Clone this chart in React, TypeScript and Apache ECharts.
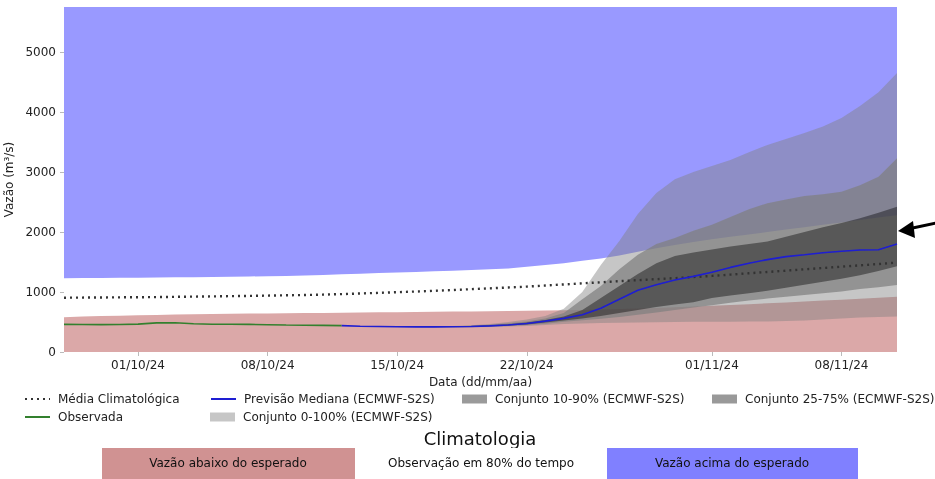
import React, { useEffect, useRef } from "react";
import * as echarts from "echarts";

// ---- Data (day 0 = 27/09/24, daily until 11/11/24) ----
const startDate = new Date(2024, 8, 27);
const dates: string[] = Array.from({ length: 46 }, (_, i) => {
  const d = new Date(startDate.getFullYear(), startDate.getMonth(), startDate.getDate() + i);
  const dd = String(d.getDate()).padStart(2, "0");
  const mm = String(d.getMonth() + 1).padStart(2, "0");
  return `${dd}/${mm}/24`;
});
const tickLabels = ["01/10/24", "08/10/24", "15/10/24", "22/10/24", "01/11/24", "08/11/24"];
const yTicks = [0, 1000, 2000, 3000, 4000, 5000];
const yMax = 5750;

const climLow = [580,590,598,605,612,618,623,628,632,636,640,643,646,649,652,655,658,661,664,667,670,673,676,679,682,686,690,695,700,708,716,725,735,745,757,770,783,797,812,827,842,857,872,887,903,920];
const climHigh = [1230,1232,1234,1236,1238,1241,1244,1247,1251,1255,1259,1263,1268,1275,1285,1295,1305,1315,1325,1335,1345,1356,1367,1378,1390,1420,1450,1480,1520,1560,1610,1670,1730,1785,1835,1880,1920,1960,2000,2040,2080,2120,2160,2200,2240,2280];
const climMean = [905,907,909,911,913,915,919,923,927,931,935,940,945,950,957,965,975,986,997,1008,1020,1033,1047,1061,1075,1090,1108,1126,1144,1162,1180,1197,1214,1231,1249,1268,1290,1312,1334,1356,1378,1400,1422,1444,1466,1490];

const observed = [460,459,457,458,465,485,488,470,463,462,460,455,450,447,444,440];

const forecastStart = 15;
const median = [440,430,425,420,418,418,420,425,435,450,475,515,560,620,730,880,1030,1120,1200,1260,1330,1410,1480,1540,1590,1620,1655,1680,1700,1705,1800];
const ens0High = [440,432,428,425,425,428,435,445,465,500,540,600,720,1000,1450,1850,2300,2650,2880,3000,3100,3200,3330,3450,3550,3650,3760,3900,4100,4330,4650];
const ens0Low = [440,428,420,415,412,410,410,412,418,425,435,450,465,475,482,488,492,496,500,503,505,505,507,510,515,525,540,560,575,585,590];
const ens10High = [440,431,426,422,422,424,430,438,455,478,510,560,650,880,1100,1380,1620,1800,1900,2020,2120,2250,2380,2480,2540,2600,2630,2670,2780,2920,3230];
const ens10Low = [440,429,422,417,415,414,415,417,424,433,448,470,505,530,555,585,620,660,700,740,780,820,860,890,920,950,980,1010,1050,1080,1117];
const ens25High = [440,430,425,421,420,421,425,432,445,462,490,535,590,700,900,1100,1300,1480,1600,1660,1710,1760,1800,1840,1920,2000,2080,2150,2230,2320,2420];
const ens25Low = [440,429,423,419,417,416,418,421,430,442,460,490,525,560,600,650,700,750,790,830,900,940,980,1020,1070,1120,1170,1220,1280,1350,1430];

const NAMES = {
  mean: "Média Climatológica",
  obs: "Observada",
  med: "Previsão Mediana (ECMWF-S2S)",
  e0: "Conjunto 0-100% (ECMWF-S2S)",
  e10: "Conjunto 10-90% (ECMWF-S2S)",
  e25: "Conjunto 25-75% (ECMWF-S2S)",
};

const FONT = "DejaVu Sans";

// place values on the full daily category axis, "-" where there is no data
function placed(vals: number[], offset: number) {
  return dates.map((_, i) => {
    const j = i - offset;
    return j >= 0 && j < vals.length ? vals[j] : "-";
  });
}

function band(id: string, name: string, low: number[], high: number[], offset: number, color: string, z: number) {
  return [
    {
      type: "line",
      name: id + "_base",
      stack: id,
      data: placed(low, offset),
      symbol: "none",
      lineStyle: { width: 0, opacity: 0 },
      silent: true,
      z,
    },
    {
      type: "line",
      name,
      stack: id,
      data: placed(high.map((h, i) => h - low[i]), offset),
      symbol: "none",
      lineStyle: { width: 0, opacity: 0 },
      areaStyle: { color, opacity: 1 },
      itemStyle: { color },
      silent: true,
      z,
    },
  ];
}

function legendItem(left: number, top: number, item: any) {
  return {
    left,
    top,
    padding: 0,
    itemWidth: 25,
    itemHeight: 9,
    selectedMode: false,
    textStyle: { fontSize: 12, fontFamily: FONT, color: "#222", padding: [0, 0, 0, 3] },
    data: [item],
  };
}

export default function App() {
  const ref = useRef<HTMLDivElement>(null);
  useEffect(() => {
    if (!ref.current) return;
    const chart = echarts.init(ref.current, null, { renderer: "svg" });
    const tickIdx = tickLabels.map((t) => dates.indexOf(t));
    const showTick = (i: number) => tickIdx.indexOf(i) >= 0;
    const option: any = {
      animation: false,
      textStyle: { fontFamily: FONT },
      grid: { left: 64, right: 38, top: 7, bottom: 127, outerBoundsMode: "none", containLabel: false },
      xAxis: {
        type: "category",
        data: dates,
        boundaryGap: false,
        name: "Data (dd/mm/aa)",
        nameLocation: "middle",
        nameGap: 24,
        nameTextStyle: { fontSize: 12, color: "#222", fontFamily: FONT },
        axisLine: { show: false },
        axisTick: { show: true, length: 4, lineStyle: { color: "#bbb" }, interval: showTick },
        axisLabel: { interval: showTick, fontSize: 12, color: "#222", margin: 7 },
        splitLine: { show: false },
      },
      yAxis: {
        type: "value",
        min: 0,
        max: yMax,
        interval: 1000,
        name: "Vazão (m³/s)",
        nameLocation: "middle",
        nameGap: 46,
        nameTextStyle: { fontSize: 12, color: "#222", fontFamily: FONT },
        axisLine: { show: false },
        axisTick: { show: true, length: 4, lineStyle: { color: "#bbb" }, customValues: yTicks },
        axisLabel: { customValues: yTicks, formatter: (v: number) => String(v), fontSize: 12, color: "#222", margin: 8 },
        splitLine: { show: false },
      },
      legend: [
        legendItem(24, 393, { name: NAMES.mean, itemStyle: { opacity: 0 } }),
        legendItem(210, 393, { name: NAMES.med, itemStyle: { opacity: 0 } }),
        legendItem(462, 393, { name: NAMES.e10, icon: "rect", itemStyle: { color: "#9a9a9a" } }),
        legendItem(712, 393, { name: NAMES.e25, icon: "rect", itemStyle: { color: "#999999" } }),
        legendItem(24, 411, { name: NAMES.obs, itemStyle: { opacity: 0 } }),
        legendItem(210, 411, { name: NAMES.e0, icon: "rect", itemStyle: { color: "#c6c6c6" } }),
      ],
      series: [
        // climatology: below expected (pink)
        {
          type: "line",
          name: "clim_low",
          data: climLow,
          symbol: "none",
          lineStyle: { width: 0, opacity: 0 },
          areaStyle: { color: "#dba8a8", opacity: 1 },
          silent: true,
          z: 1,
        },
        // climatology: above expected (blue), from upper bound to top
        {
          type: "line",
          name: "clim_high_base",
          stack: "climHigh",
          data: climHigh,
          symbol: "none",
          lineStyle: { width: 0, opacity: 0 },
          silent: true,
          z: 1,
        },
        {
          type: "line",
          name: "clim_high",
          stack: "climHigh",
          data: climHigh.map((v) => yMax - v),
          symbol: "none",
          lineStyle: { width: 0, opacity: 0 },
          areaStyle: { color: "#9999ff", opacity: 1 },
          silent: true,
          z: 1,
        },
        ...band("e0", NAMES.e0, ens0Low, ens0High, forecastStart, "rgba(128,128,128,0.45)", 2),
        ...band("e10", NAMES.e10, ens10Low, ens10High, forecastStart, "rgba(128,128,128,0.72)", 3),
        ...band("e25", NAMES.e25, ens25Low, ens25High, forecastStart, "rgba(0,0,0,0.4)", 4),
        {
          type: "line",
          name: NAMES.mean,
          data: climMean,
          symbol: "none",
          lineStyle: { color: "#333", width: 2.4, type: [2, 4] },
          itemStyle: { color: "#333" },
          silent: true,
          z: 5,
        },
        {
          type: "line",
          name: NAMES.obs,
          data: placed(observed, 0),
          symbol: "none",
          lineStyle: { color: "#33802e", width: 1.6 },
          itemStyle: { color: "#33802e" },
          silent: true,
          z: 6,
        },
        {
          type: "line",
          name: NAMES.med,
          data: placed(median, forecastStart),
          symbol: "none",
          lineStyle: { color: "#1e1ed2", width: 1.6 },
          itemStyle: { color: "#5555cc" },
          silent: true,
          z: 6,
        },
      ],
      graphic: [
        {
          type: "text",
          x: 480,
          y: 438,
          style: { text: "Climatologia", font: `18px "${FONT}"`, fill: "#111", textAlign: "center", textVerticalAlign: "middle" },
        },
        { type: "rect", shape: { x: 102, y: 448, width: 253, height: 35 }, style: { fill: "#d09292" } },
        { type: "rect", shape: { x: 355, y: 448, width: 252, height: 35 }, style: { fill: "#ffffff" } },
        { type: "rect", shape: { x: 607, y: 448, width: 251, height: 35 }, style: { fill: "#8080ff" } },
        {
          type: "text",
          x: 228,
          y: 463,
          style: { text: "Vazão abaixo do esperado", font: `12px "${FONT}"`, fill: "#111", textAlign: "center", textVerticalAlign: "middle" },
        },
        {
          type: "text",
          x: 481,
          y: 463,
          style: { text: "Observação em 80% do tempo", font: `12px "${FONT}"`, fill: "#111", textAlign: "center", textVerticalAlign: "middle" },
        },
        {
          type: "text",
          x: 732,
          y: 463,
          style: { text: "Vazão acima do esperado", font: `12px "${FONT}"`, fill: "#111", textAlign: "center", textVerticalAlign: "middle" },
        },
        { type: "line", shape: { x1: 936, y1: 223, x2: 908, y2: 229 }, style: { stroke: "#000", lineWidth: 3 } },
        { type: "polygon", shape: { points: [[898, 231], [913, 221], [915, 238]] }, style: { fill: "#000" } },
      ],
    };
    chart.setOption(option);
    return () => chart.dispose();
  }, []);
  return <div ref={ref} style={{ position: "fixed", left: 0, top: 0, width: 935, height: 479 }} />;
}
